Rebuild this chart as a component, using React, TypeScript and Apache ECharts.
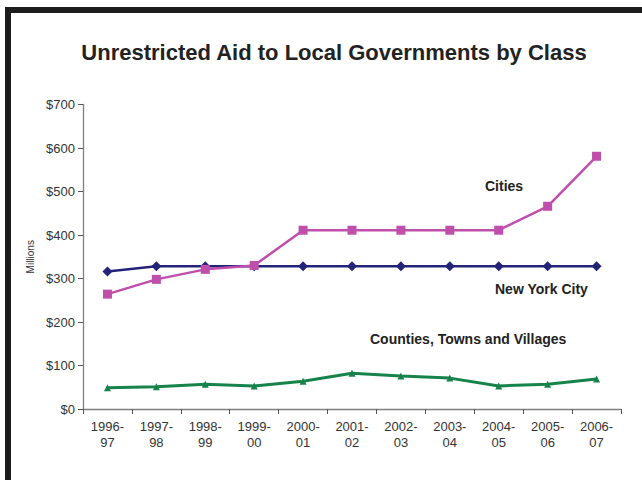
import React, { useEffect, useRef } from "react";
import * as echarts from "echarts";

const categories = ["1996-\n97", "1997-\n98", "1998-\n99", "1999-\n00", "2000-\n01", "2001-\n02", "2002-\n03", "2003-\n04", "2004-\n05", "2005-\n06", "2006-\n07"];
const newYorkCity = [316, 328, 328, 328, 328, 328, 328, 328, 328, 328, 328];
const cities = [264, 298, 321, 330, 411, 411, 411, 411, 411, 466, 581];
const counties = [49, 51, 57, 53, 64, 82, 76, 71, 53, 57, 69];
const yTicks = { min: 0, max: 700, interval: 100 };

export default function App() {
  const ref = useRef<HTMLDivElement>(null);
  useEffect(() => {
    if (!ref.current) return;
    const chart = echarts.init(ref.current, undefined, { renderer: "svg" });
    const font = "'Liberation Sans', Arial, sans-serif";
    chart.setOption({
      animation: false,
      backgroundColor: "#ffffff",
      textStyle: { fontFamily: font },
      title: {
        text: "Unrestricted Aid to Local Governments by Class",
        left: 329,
        top: 36,
        textAlign: "center",
        textStyle: { fontFamily: font, fontSize: 22, fontWeight: "bold", color: "#222" },
      },
      grid: { left: 83, right: 21, top: 104.5, bottom: 71 },
      xAxis: {
        type: "category",
        data: categories,
        boundaryGap: true,
        axisLine: { lineStyle: { color: "#7f7f7f", width: 1.3 } },
        axisTick: { show: true, length: 5, lineStyle: { color: "#555" } },
        axisLabel: { color: "#333", fontSize: 13, fontFamily: font, margin: 9, lineHeight: 16, interval: 0 },
      },
      yAxis: {
        type: "value",
        min: yTicks.min,
        max: yTicks.max,
        interval: yTicks.interval,
        name: "Millions",
        nameLocation: "middle",
        nameRotate: 90,
        nameGap: 45,
        nameTextStyle: { fontSize: 10, color: "#333", fontFamily: font },
        splitLine: { show: false },
        axisLine: { show: true, lineStyle: { color: "#7f7f7f", width: 1.3 } },
        axisTick: { show: true, length: 5, lineStyle: { color: "#555" } },
        axisLabel: { color: "#333", fontSize: 13, fontFamily: font, margin: 8, formatter: (v: number) => "$" + v },
      },
      series: [
        {
          name: "New York City",
          type: "line",
          data: newYorkCity,
          symbol: "diamond",
          symbolSize: 10,
          lineStyle: { color: "#23237a", width: 2.5 },
          itemStyle: { color: "#23237a" },
          z: 3,
        },
        {
          name: "Cities",
          type: "line",
          data: cities,
          symbol: "rect",
          symbolSize: 9,
          lineStyle: { color: "#c04fac", width: 2.5 },
          itemStyle: { color: "#c04fac" },
          z: 4,
        },
        {
          name: "Counties, Towns and Villages",
          type: "line",
          data: counties,
          symbol: "triangle",
          symbolSize: 7,
          lineStyle: { color: "#17834a", width: 3 },
          itemStyle: { color: "#17834a" },
        },
      ],
      graphic: [
        { type: "rect", shape: { x: 5, y: 7, width: 6, height: 473 }, style: { fill: "#1c1c1c" } },
        { type: "rect", shape: { x: 5, y: 7, width: 637, height: 6 }, style: { fill: "#1c1c1c" } },
        { type: "text", x: 485, y: 186, style: { text: "Cities", fontFamily: font, fontSize: 14, fontWeight: "bold", fill: "#222", align: "left", verticalAlign: "middle" } },
        { type: "text", x: 495, y: 289, style: { text: "New York City", fontFamily: font, fontSize: 14, fontWeight: "bold", fill: "#222", align: "left", verticalAlign: "middle" } },
        { type: "text", x: 370, y: 339, style: { text: "Counties, Towns and Villages", fontFamily: font, fontSize: 14, fontWeight: "bold", fill: "#222", align: "left", verticalAlign: "middle" } },
      ],
    });
    return () => chart.dispose();
  }, []);
  return <div ref={ref} style={{ position: "fixed", left: 0, top: 0, width: 642, height: 480 }} />;
}
